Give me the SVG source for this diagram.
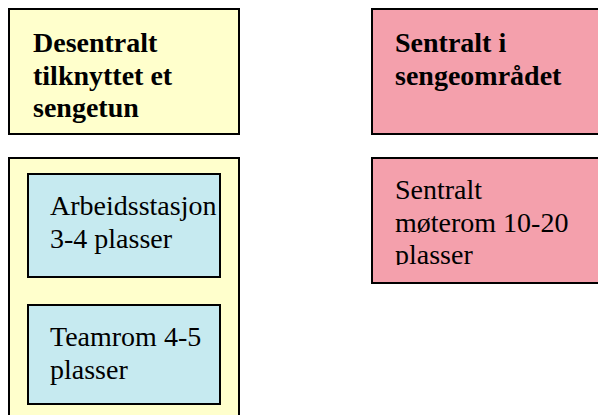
<svg xmlns="http://www.w3.org/2000/svg" width="598" height="415" viewBox="0 0 598 415">
  <style>
    .box { stroke: #000; stroke-width: 2; }
    .yellow { fill: #ffffcc; }
    .pink { fill: #f4a0ac; }
    .blue { fill: #c6eaf0; }
    .head { font-family: "Liberation Serif", "Times New Roman", serif; font-size: 28px; font-weight: bold; fill: #000; }
    .body { font-family: "Liberation Serif", "Times New Roman", serif; font-size: 28px; fill: #000; }
  </style>
  <defs>
    <clipPath id="clip-moterom">
      <rect x="372" y="158" width="230" height="107"/>
    </clipPath>
  </defs>

  <!-- decentral heading -->
  <g id="desentralt">
    <rect class="box yellow" x="9" y="9" width="230" height="125"/>
    <text class="head" x="33" y="52">Desentralt</text>
    <text class="head" x="33" y="84.5">tilknyttet et</text>
    <text class="head" x="33" y="117">sengetun</text>
  </g>

  <!-- central heading (box runs past the right edge) -->
  <g id="sentralt">
    <rect class="box pink" x="372" y="9" width="230" height="125"/>
    <text class="head" x="395" y="52">Sentralt i</text>
    <text class="head" x="395" y="84.5">sengeområdet</text>
  </g>

  <!-- decentral rooms container (runs past the bottom edge) -->
  <g id="desentral-rom">
    <rect class="box yellow" x="9" y="158" width="230" height="264"/>
  </g>

  <g id="arbeidsstasjon">
    <rect class="box blue" x="28" y="174" width="192" height="103"/>
    <text class="body" x="50" y="215">Arbeidsstasjon</text>
    <text class="body" x="50" y="247.5">3-4 plasser</text>
  </g>

  <g id="teamrom">
    <rect class="box blue" x="28" y="305" width="192" height="99"/>
    <text class="body" x="50" y="346">Teamrom 4-5</text>
    <text class="body" x="50" y="378.5">plasser</text>
  </g>

  <!-- central meeting room; last line is cut by the text area -->
  <g id="moterom">
    <rect class="box pink" x="372" y="158" width="230" height="125"/>
    <g clip-path="url(#clip-moterom)">
      <text class="body" x="395" y="199">Sentralt</text>
      <text class="body" x="395" y="231.5">møterom 10-20</text>
      <text class="body" x="395" y="264">plasser</text>
    </g>
  </g>

  <g id="connectors"/>
</svg>
